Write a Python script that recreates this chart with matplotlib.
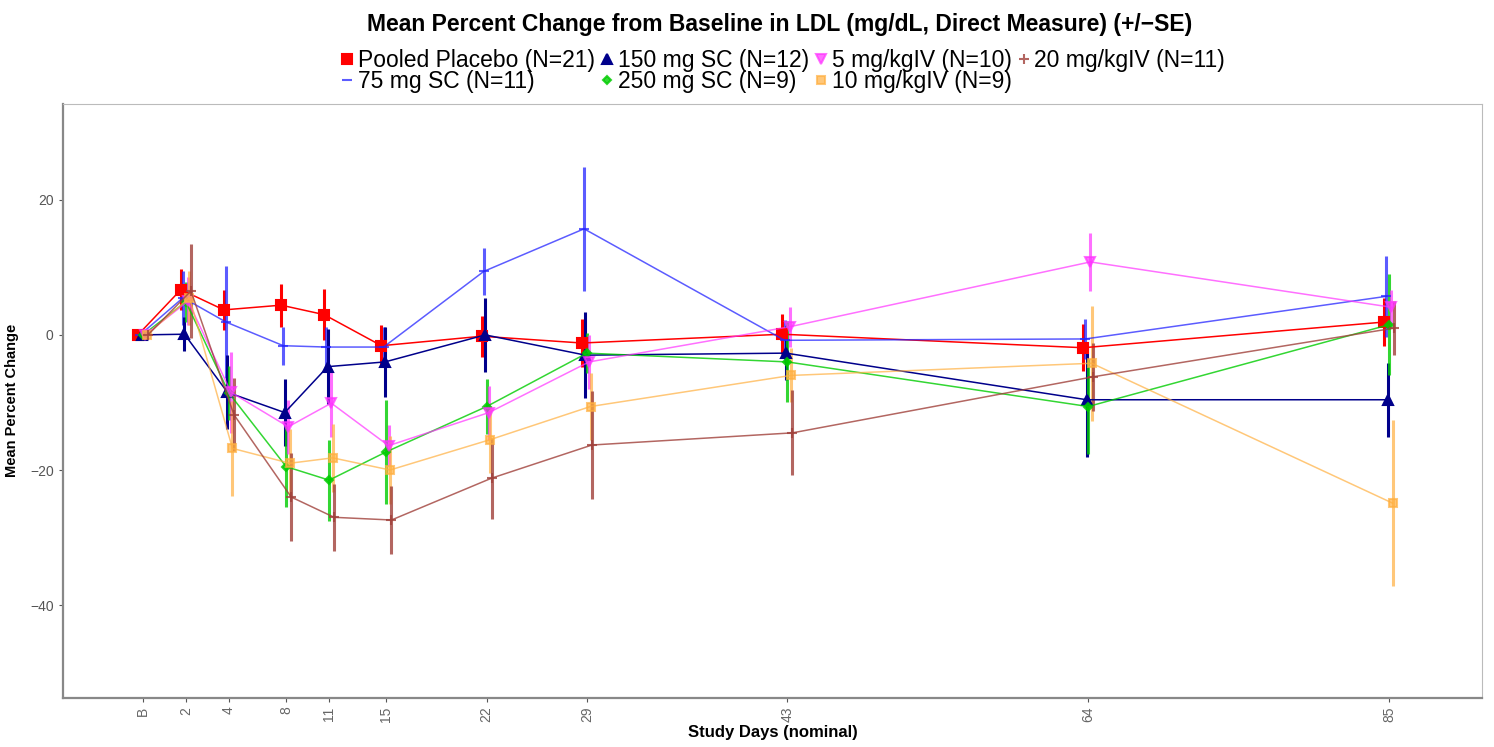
import numpy as np
import matplotlib
matplotlib.use('Agg')
import matplotlib.pyplot as plt

plt.rcParams['font.family'] = ['Liberation Sans', 'DejaVu Sans']

# nominal visit positions (days) and their tick labels
day_pos = [-2, 1, 4, 8, 11, 15, 22, 29, 43, 64, 85]
day_labels = ['B', '2', '4', '8', '11', '15', '22', '29', '43', '64', '85']

# mean percent change per group
placebo_mean = [0, 6.7, 3.7, 4.4, 3.0, -1.6, -0.2, -1.2, 0.1, -1.9, 1.9]
placebo_se = [0, 3.0, 3.0, 3.2, 3.8, 3.0, 3.0, 3.5, 3.0, 3.5, 3.5]

sc75_mean = [0, 5.5, 1.9, -1.6, -1.8, -1.8, 9.4, 15.7, -0.8, -0.6, 5.7]
sc75_se = [0, 4.0, 8.3, 2.8, 3.0, 3.0, 3.5, 9.2, 3.0, 3.0, 6.0]

sc150_mean = [0, 0.1, -8.5, -11.5, -4.7, -4.0, 0.0, -3.0, -2.7, -9.6, -9.6]
sc150_se = [0, 2.5, 5.5, 5.0, 5.5, 5.2, 5.5, 6.4, 4.0, 8.5, 5.5]

sc250_mean = [0, 4.9, -8.6, -19.5, -21.5, -17.3, -10.6, -2.7, -4.0, -10.6, 1.5]
sc250_se = [0, 3.0, 4.0, 6.0, 6.0, 7.7, 4.0, 3.0, 6.0, 7.0, 7.5]

iv5_mean = [0, 5.0, -8.5, -13.6, -10.1, -16.4, -11.5, -4.0, 1.2, 10.8, 4.1]
iv5_se = [0, 3.5, 6.0, 4.0, 5.0, 3.0, 4.0, 4.0, 3.0, 4.3, 2.5]

iv10_mean = [0, 5.5, -16.8, -19.0, -18.2, -20.0, -15.5, -10.6, -6.0, -4.2, -24.9]
iv10_se = [0, 4.0, 7.0, 5.0, 5.0, 5.0, 5.0, 5.0, 4.0, 8.5, 12.3]

iv20_mean = [0, 6.5, -11.8, -24.0, -27.0, -27.4, -21.2, -16.3, -14.5, -6.2, 1.0]
iv20_se = [0, 7.0, 5.4, 6.5, 5.0, 5.0, 6.0, 8.0, 6.3, 5.0, 4.0]

# legend order laid out so that ncol=4 fills rows like the original
groups = [
    ('Pooled Placebo (N=21)', placebo_mean, placebo_se, '#FF0000', 's', 7.5, 1.0, -0.35),
    ('75 mg SC (N=11)', sc75_mean, sc75_se, '#2525FF', '_', 7, 0.75, -0.2),
    ('150 mg SC (N=12)', sc150_mean, sc150_se, '#00008B', '^', 7.5, 1.0, -0.1),
    ('250 mg SC (N=9)', sc250_mean, sc250_se, '#00CC00', 'D', 4.5, 0.8, 0.0),
    ('5 mg/kgIV (N=10)', iv5_mean, iv5_se, '#FF33FF', 'v', 6.5, 0.7, 0.15),
    ('10 mg/kgIV (N=9)', iv10_mean, iv10_se, '#FFB040', 's', 5.5, 0.7, 0.25),
    ('20 mg/kgIV (N=11)', iv20_mean, iv20_se, '#A0403A', '+', 7, 0.8, 0.35),
]

fig = plt.figure(figsize=(14.94, 7.47), dpi=100)
ax = fig.add_axes([0.042, 0.066, 0.95, 0.795])

handles = []
for label, mean, se, color, marker, ms, alpha, dx in groups:
    x = np.array(day_pos, dtype=float) + dx
    ax.errorbar(x, mean, yerr=se, color=color, marker=marker, markersize=ms,
                lw=1.1, elinewidth=2.2, capsize=0, alpha=alpha,
                markeredgewidth=1.5, label=label)
    handles.append(plt.Line2D([], [], color=color, marker=marker, markersize=ms,
                              linestyle='None', alpha=alpha, markeredgewidth=1.5))

ax.set_xlim(-7.6, 91.5)
ax.set_ylim(-53.7, 34.2)
ax.set_xticks(day_pos)
ax.set_xticklabels(day_labels, rotation=90)
ax.set_yticks([20, 0, -20, -40])
ax.tick_params(colors='#555555', labelsize=10, length=3)
ax.tick_params(axis='x', labelcolor='#666666')

for side in ['top', 'right']:
    ax.spines[side].set_color('#BBBBBB')
    ax.spines[side].set_linewidth(0.8)
for side in ['left', 'bottom']:
    ax.spines[side].set_color('#888888')
    ax.spines[side].set_linewidth(1.6)

ax.set_xlabel('Study Days (nominal)', fontsize=12, fontweight='bold', labelpad=2)
ax.set_ylabel('Mean Percent Change', fontsize=10.5, fontweight='bold', labelpad=8)

fig.text(0.522, 0.967, 'Mean Percent Change from Baseline in LDL (mg/dL, Direct Measure) (+/\u2212SE)',
         ha='center', va='center', fontsize=16.5, fontweight='bold')

fig.legend(handles, [g[0] for g in groups], loc='center', bbox_to_anchor=(0.524, 0.905),
           ncol=4, frameon=False, fontsize=16.5, handlelength=0.6, handletextpad=0.15,
           columnspacing=0.25, labelspacing=-0.12, borderpad=0)

fig.savefig('out.png', dpi=100)
